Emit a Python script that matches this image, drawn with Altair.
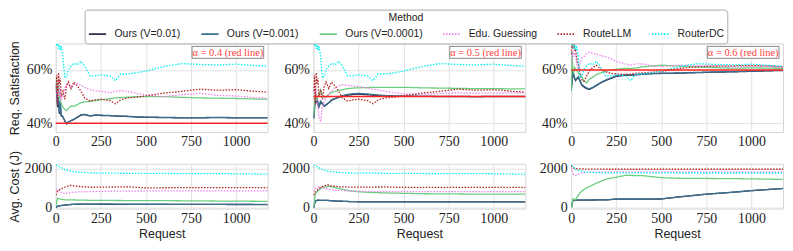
import altair as alt
import pandas as pd

METHODS = ["Ours (V=0.01)", "Ours (V=0.001)", "Ours (V=0.0001)", "Edu. Guessing", "RouteLLM", "RouterDC"]
COLORS = ["#2c2f4e", "#3a7191", "#6ccf80", "#ee82ee", "#b22222", "#00f0f0"]
DASHES = [[1, 0], [1, 0], [1, 0], [1.5, 1.5], [1.5, 1.5], [1.5, 1.5]]
ALPHAS = [0.4, 0.5, 0.6]
X_TICKS = [0, 250, 500, 750, 1000]

# ---------------- Req. Satisfaction (%) ----------------
X_TOP = [1, 5, 10, 15, 20, 25, 30, 40, 50, 60, 70, 85, 100, 120, 140, 160, 190, 220, 250, 300,
         330, 360, 400, 450, 500, 600, 700, 800, 900, 1000, 1100, 1175]

DC_TOP = [71, 69, 70.5, 68, 69.5, 67.5, 69, 65, 57, 57.5, 60, 61.5, 62.5, 62, 63.3, 61.5, 57.8, 57.8, 58.2, 57.8,
          56, 58.5, 58.5, 59, 59.6, 61.3, 62.4, 62.1, 61.9, 62.2, 61.7, 61.4]

NV_P1 = [54, 51, 46, 49.5, 43.5, 47.5, 42.8, 42.3, 40.8, 39.7, 40.3, 40.9, 41.4, 42.2, 43, 43.2, 42.7, 43, 42.9, 42.8,
         42.7, 42.6, 42.5, 42.3, 42.2, 42.1, 42, 42, 42.1, 42, 42, 42]
ST_P1 = [55, 52, 47, 50, 44, 48, 43, 42.5, 41, 39.8, 40.5, 41, 41.5, 42.3, 43.2, 43.3, 42.8, 43.1, 43, 42.9,
         42.8, 42.7, 42.6, 42.4, 42.3, 42.2, 42.1, 42.1, 42.2, 42.1, 42.1, 42.1]
GR_P1 = [57, 55, 52, 55, 50, 48.5, 47.5, 46, 45.2, 44.7, 45.5, 46.5, 46.3, 47, 47.8, 48, 48.2, 48.5, 48.8, 49.2,
         49.5, 49.6, 49.8, 50, 50, 50, 49.7, 49.5, 49.4, 49.3, 49.1, 49]
EDU_P1 = [55, 52, 48, 56, 50, 53, 49, 50.5, 53, 55, 54, 53.5, 54.5, 55, 54.2, 53.5, 52.6, 52.2, 52, 51.4,
          52, 52.3, 51.9, 51.2, 50.6, 50, 50.7, 51.2, 50.5, 50.2, 49.6, 49.4]
RL_P1 = [52, 58, 47, 59, 55, 57, 50, 52, 49, 54, 55.5, 53, 55.5, 54, 52, 49.5, 48.3, 48.8, 49, 48.5,
         47.3, 48.8, 49.5, 49.8, 50.3, 51.3, 52, 52.8, 52.4, 52.6, 52, 51.7]

NV_P2 = [42, 45, 48.5, 47.5, 49.5, 47.2, 46, 47.8, 47.2, 46.3, 46.8, 47.6, 48.6, 49.2, 49.7, 50.2, 50.5, 50.8, 50.9, 50.7,
         50.5, 50.4, 50.3, 50.2, 50.1, 50.1, 50.1, 50.1, 50, 50.1, 50.1, 50.1]
ST_P2 = [41.6, 44, 49, 48, 50, 47.7, 46.5, 48.3, 47.5, 46.5, 47, 47.8, 48.8, 49.3, 49.8, 50.4, 50.8, 51.1, 51.2, 51,
         50.8, 50.6, 50.4, 50.3, 50.2, 50.1, 50, 50, 50, 50, 50, 50]
GR_P2 = [42.8, 47, 51.4, 50, 49, 50.2, 51, 52.6, 50.5, 49.6, 50, 50.8, 51.5, 52, 52.3, 52.6, 53, 53.2, 53.3, 53.4,
         53.5, 53.5, 53.5, 53.5, 53.5, 53.3, 53.2, 53.1, 53, 53, 52.9, 52.9]
EDU_P2 = [52, 54, 50, 52.6, 48, 46.5, 42.8, 40.5, 46.5, 48, 49.6, 51, 52, 53.3, 54, 54.5, 54.2, 54, 53.8, 53.3,
          52.8, 52.5, 52, 51.4, 51, 50.8, 51.2, 51.4, 51.3, 51.3, 51.4, 51.4]
RL_P2 = [52, 58, 47, 59, 55, 57, 50, 52, 49, 54, 55.5, 53, 55.5, 54, 52, 49.5, 48.3, 48.8, 49, 48.5,
         47.3, 48.8, 49.5, 49.8, 50.3, 51.3, 52, 52.8, 52.4, 52.6, 52, 51.7]

NV_P3 = [52.3, 55.5, 59.5, 57.6, 56.7, 56, 56.5, 57.2, 55.7, 54.2, 53.7, 53, 52.7, 53.3, 54.1, 55, 56, 56.8, 57.6, 58,
         58, 58.2, 58.4, 58.6, 58.7, 58.8, 59, 59.2, 59.3, 59.5, 59.7, 59.8]
ST_P3 = [52.6, 56, 60, 58, 57, 56.3, 56.8, 57.5, 56, 54.5, 54, 53.3, 52.9, 53.5, 54.3, 55.1, 56.2, 57, 57.8, 58.2,
         58.1, 58.3, 58.5, 58.7, 58.8, 58.9, 59.1, 59.3, 59.4, 59.6, 59.8, 59.9]
GR_P3 = [52.6, 67, 60, 58.8, 61, 60.5, 60, 59, 58, 57.5, 56, 55.1, 56.5, 57.3, 58.3, 58.8, 59.5, 60, 60.3, 60.6,
         60.6, 60.8, 61.2, 61.5, 61.8, 61.5, 61.1, 60.9, 60.7, 60.8, 60.7, 60.6]
EDU_P3 = [62, 63.7, 67, 65, 66, 66.1, 63, 60, 62.5, 64.5, 64.9, 66, 66.7, 66.3, 66, 65.5, 65, 64.3, 63.2, 62.3,
          61.8, 62.3, 62.3, 61.5, 61.3, 61.8, 61.6, 61.5, 61.2, 61.5, 61.2, 61]
RL_P3 = [66, 70, 68, 71, 67, 67.4, 65, 62, 58.5, 56.3, 55.7, 57.5, 59.5, 61, 61.8, 60.5, 59.3, 58.8, 58.5, 58.3,
         58.5, 58.8, 58.9, 59.2, 59.4, 60.6, 61.2, 61.5, 61.6, 61.7, 61.5, 61.2]

# ---------------- Avg. Cost (J) ----------------
X_BOT = [1, 10, 25, 50, 80, 100, 150, 200, 250, 300, 400, 500, 600, 750, 900, 1000, 1175]

DC_B12 = [2200, 2150, 2080, 1950, 1880, 1850, 1800, 1780, 1770, 1770, 1765, 1760, 1755, 1750, 1745, 1740, 1720]

NV_B1 = [15, 75, 105, 135, 165, 175, 185, 185, 180, 180, 178, 176, 175, 173, 170, 168, 166]
ST_B1 = [20, 80, 110, 140, 170, 180, 190, 190, 185, 185, 182, 180, 180, 178, 175, 172, 170]
GR_B1 = [100, 480, 450, 400, 410, 400, 390, 380, 380, 375, 370, 370, 365, 355, 345, 340, 330]
EDU_B1 = [900, 950, 800, 720, 780, 800, 820, 830, 840, 845, 855, 860, 860, 860, 860, 860, 860]
RL_B1 = [650, 850, 950, 1050, 1150, 1120, 1070, 1050, 1055, 1060, 1075, 1020, 1025, 1030, 1030, 1030, 1030]

NV_B2 = [0, 340, 385, 375, 375, 355, 335, 318, 308, 303, 299, 298, 298, 298, 298, 298, 298]
ST_B2 = [0, 350, 390, 380, 380, 360, 340, 320, 310, 305, 300, 300, 300, 300, 300, 300, 300]
GR_B2 = [0, 700, 880, 1040, 1100, 1080, 970, 870, 820, 790, 760, 740, 720, 710, 700, 700, 700]
EDU_B2 = [850, 1000, 1070, 1020, 960, 920, 880, 860, 850, 840, 830, 830, 830, 825, 825, 825, 825]
RL_B2 = [650, 800, 950, 1100, 1170, 1120, 1070, 1060, 1060, 1060, 1065, 1040, 1040, 1040, 1040, 1040, 1040]

NV_B3 = [0, 375, 395, 395, 395, 395, 400, 405, 445, 445, 445, 450, 555, 695, 795, 875, 985]
ST_B3 = [0, 380, 400, 400, 400, 400, 405, 410, 450, 450, 450, 455, 560, 700, 800, 880, 990]
GR_B3 = [0, 450, 420, 780, 1000, 1080, 1300, 1480, 1560, 1660, 1640, 1540, 1510, 1500, 1490, 1480, 1450]
EDU_B3 = [2050, 1750, 1650, 1750, 1800, 1820, 1830, 1835, 1835, 1840, 1840, 1840, 1835, 1835, 1835, 1830, 1830]
RL_B3 = [2150, 2050, 2000, 1990, 1980, 1975, 1975, 1970, 1970, 1970, 1970, 1970, 1970, 1970, 1970, 1970, 1970]
DC_B3 = [2200, 2100, 1950, 1880, 1830, 1810, 1800, 1790, 1790, 1790, 1785, 1785, 1780, 1780, 1780, 1780, 1780]

TOP_SERIES = [
    [NV_P1, ST_P1, GR_P1, EDU_P1, RL_P1, DC_TOP],
    [NV_P2, ST_P2, GR_P2, EDU_P2, RL_P2, DC_TOP],
    [NV_P3, ST_P3, GR_P3, EDU_P3, RL_P3, DC_TOP],
]
BOT_SERIES = [
    [NV_B1, ST_B1, GR_B1, EDU_B1, RL_B1, DC_B12],
    [NV_B2, ST_B2, GR_B2, EDU_B2, RL_B2, DC_B12],
    [NV_B3, ST_B3, GR_B3, EDU_B3, RL_B3, DC_B3],
]

SERIF = "Liberation Serif"
SANS = "Liberation Sans"
W = 213
H_TOP = 89
H_BOT = 45


def make_df(xs, series):
    rows = []
    for k, (m, vals) in enumerate(zip(METHODS, series)):
        for xv, yv in zip(xs, vals):
            rows.append({"Method": m, "k": k, "x": xv, "y": yv})
    return pd.DataFrame(rows)


legend = alt.Legend(
    title="Method", orient="none", legendX=29, legendY=-34, direction="horizontal", columns=6,
    titleAnchor="middle", titleFont=SANS, titleFontSize=10.5, titleFontWeight="normal", titleColor="#222",
    titlePadding=1, labelFont=SANS, labelFontSize=10.5, labelColor="#222", labelOffset=7,
    symbolType="stroke", symbolSize=300, symbolStrokeWidth=1.8, columnPadding=16,
    strokeColor="#aaaaaa", fillColor="white", padding=3, cornerRadius=3,
)
color_scale = alt.Scale(domain=METHODS, range=COLORS)
dash_scale = alt.Scale(domain=METHODS, range=DASHES)


def panel(df, top, col):
    H = H_TOP if top else H_BOT
    xaxis = alt.Axis(values=X_TICKS, format="d", title=None if top else "Request", labelFont=SERIF,
                     labelFontSize=14, labelPadding=3, minExtent=17, maxExtent=17, titlePadding=2,
                     labelFlush=False)
    if top:
        yscale = alt.Scale(domain=[36.7, 70], nice=False, zero=False)
        yaxis = alt.Axis(values=[40, 60], labelExpr="datum.value + '%'",
                         title="Req. Satisfaction" if col == 0 else None,
                         labelFont=SERIF, labelFontSize=14, labelPadding=4, minExtent=32, maxExtent=32,
                         titlePadding=2)
    else:
        yscale = alt.Scale(domain=[-40, 2250], nice=False, zero=False)
        yaxis = alt.Axis(values=[0, 2000], format="d", title="Avg. Cost (J)" if col == 0 else None,
                         labelFont=SERIF, labelFontSize=14, labelPadding=4, minExtent=32, maxExtent=32,
                         titlePadding=2)

    lines = alt.Chart(df).mark_line(strokeWidth=1.3, clip=True).encode(
        x=alt.X("x:Q", scale=alt.Scale(domain=[0, 1175], nice=False, zero=False), axis=xaxis),
        y=alt.Y("y:Q", scale=yscale, axis=yaxis),
        color=alt.Color("Method:N", scale=color_scale, legend=legend),
        strokeDash=alt.StrokeDash("Method:N", scale=dash_scale, legend=legend),
        order=alt.Order("x:Q"),
    )
    layers = [lines]
    if top:
        a = ALPHAS[col]
        rule = alt.Chart(pd.DataFrame({"y": [a * 100]})).mark_rule(color="#ff2222", strokeWidth=1.5).encode(
            y=alt.Y("y:Q"))
        box = alt.Chart(pd.DataFrame({"t": [0]})).mark_rect(fill="white", stroke="#888888", strokeWidth=1).encode(
            x=alt.value(W - 76), x2=alt.value(W - 4), y=alt.value(3), y2=alt.value(15))
        txt = alt.Chart(pd.DataFrame({"t": [f"α = {a} (red line)"]})).mark_text(
            font=SERIF, fontSize=10.5, color="#ff3b3b", baseline="middle", align="center").encode(
            x=alt.value(W - 40), y=alt.value(9.5), text="t:N")
        layers += [rule, box, txt]
    return alt.layer(*layers).properties(width=W, height=H)


charts = []
for c in range(3):
    charts.append(panel(make_df(X_TOP, TOP_SERIES[c]), True, c))
for c in range(3):
    charts.append(panel(make_df(X_BOT, BOT_SERIES[c]), False, c))

chart = alt.concat(*charts, columns=3, spacing=alt.RowColnumber(row=32, column=46))
chart = chart.resolve_scale(color="shared", strokeDash="shared").properties(
    align="each", bounds="flush", padding=0)
chart = chart.configure_view(stroke="#d6d6d6", strokeWidth=1).configure_axis(
    gridColor="#e2e2e2", gridWidth=1, domain=False, ticks=False, labelColor="#222", titleColor="#222",
    labelFont=SERIF, titleFont=SANS, titleFontSize=12.5, titleFontWeight="normal",
)

chart.save("out.html", embed_options={"renderer": "svg", "actions": False})
